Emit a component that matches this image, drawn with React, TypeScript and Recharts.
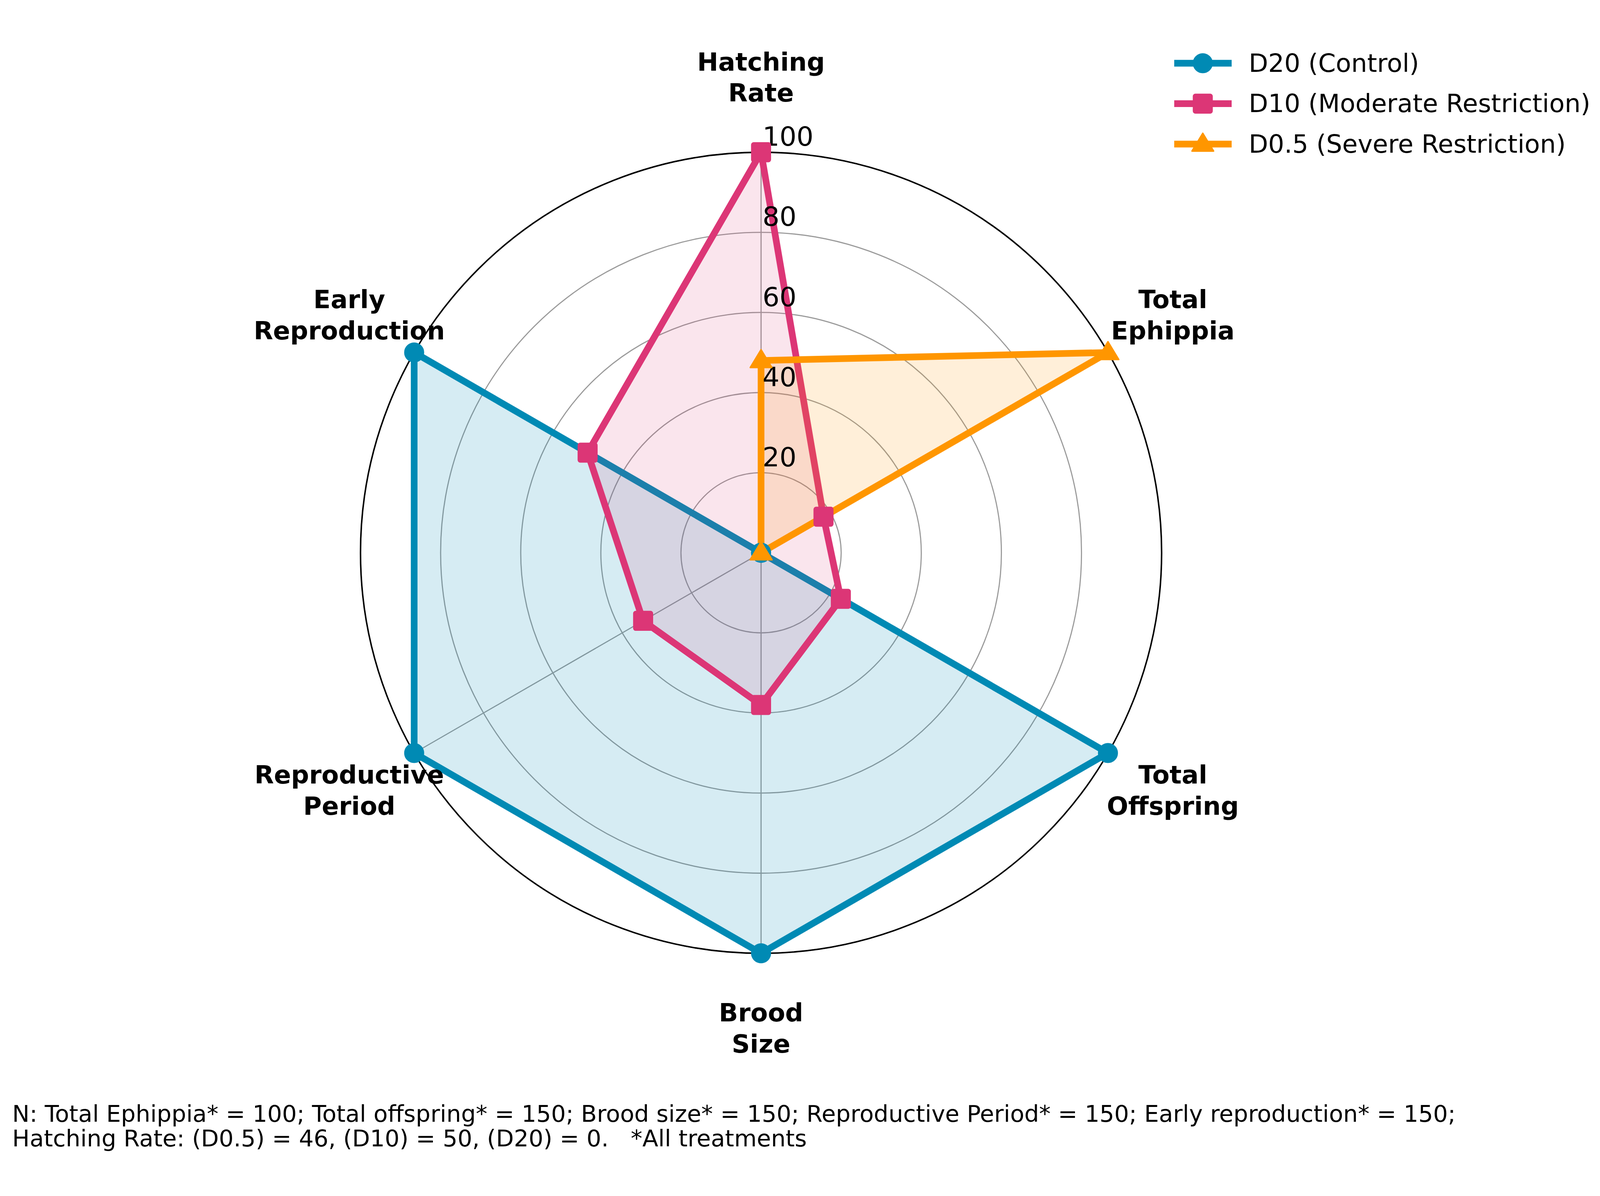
import React from 'react';
import {
  RadarChart,
  Radar,
  PolarGrid,
  PolarAngleAxis,
  PolarRadiusAxis,
  Legend,
} from 'recharts';

// --- data (normalised 0-100) ---
const categories = [
  'Hatching Rate',
  'Total Ephippia',
  'Total Offspring',
  'Brood Size',
  'Reproductive Period',
  'Early Reproduction',
];
const d20Control = [0, 0, 100, 100, 100, 100];
const d10Moderate = [100, 18, 23, 38, 34, 50];
const d05Severe = [48, 100, 0, 0, 0, 0];
const radiusTicks = [0, 20, 40, 60, 80, 100];

const seriesNames = ['D20 (Control)', 'D10 (Moderate Restriction)', 'D0.5 (Severe Restriction)'];
const seriesColors = ['#008AB4', '#DC3676', '#FF9600'];
const seriesMarkers = ['circle', 'square', 'triangle'];

const footnote = [
  'N: Total Ephippia* = 100; Total offspring* = 150; Brood size* = 150; Reproductive Period* = 150; Early reproduction* = 150;',
  'Hatching Rate: (D0.5) = 46, (D10) = 50, (D20) = 0.   *All treatments',
];

const data = categories.map((metric, i) => ({
  metric,
  d20: d20Control[i],
  d10: d10Moderate[i],
  d05: d05Severe[i],
}));

// design space = the reference figure size; scaled down to the real viewport
const W = 4314;
const H = 3062;
const CX = 2052;
const CY = 1409;
const OUTER_R = 1080;
const LABEL_R = 1282;
const LINE_W = 18;
const FONT = '"DejaVu Sans", sans-serif';

function Marker({ shape, x, y, color, size = 52 }: any) {
  const h = size / 2;
  if (shape === 'circle') {
    return <circle cx={x} cy={y} r={h} fill={color} stroke={color} strokeWidth={2} />;
  }
  if (shape === 'square') {
    return <rect x={x - h} y={y - h} width={size} height={size} rx={6} fill={color} stroke={color} strokeWidth={2} />;
  }
  const t = size * 0.56;
  return (
    <polygon
      points={`${x},${y - t} ${x - t},${y + t * 0.65} ${x + t},${y + t * 0.65}`}
      fill={color}
      stroke={color}
      strokeWidth={4}
      strokeLinejoin="round"
    />
  );
}

const makeDot = (idx: number) => (props: any) => {
  const { cx, cy, index } = props;
  return (
    <Marker
      key={`dot-${idx}-${index}`}
      shape={seriesMarkers[idx]}
      x={cx}
      y={cy}
      color={seriesColors[idx]}
    />
  );
};

// category labels, two lines, centred on a circle outside the plot
const AngleTick = ({ payload }: any) => {
  const a = (payload.coordinate * Math.PI) / 180;
  const x = CX + LABEL_R * Math.cos(a);
  const y = CY - LABEL_R * Math.sin(a);
  const words = String(payload.value).split(' ');
  const lh = 84;
  return (
    <text x={x} y={y} textAnchor="middle" fontFamily={FONT} fontSize={68} fontWeight="bold" fill="#000">
      {words.map((w, i) => (
        <tspan key={w} x={x} y={y + (i - (words.length - 1) / 2) * lh} dominantBaseline="central">
          {w}
        </tspan>
      ))}
    </text>
  );
};

const RadiusTick = ({ x, y, payload }: any) => {
  if (payload.value === 0) return null;
  return (
    <text x={x + 4} y={y - 42} textAnchor="start" dominantBaseline="central" fontFamily={FONT} fontSize={72} fill="#000">
      {payload.value}
    </text>
  );
};

const LegendContent = () => (
  <div style={{ fontFamily: FONT, fontSize: 68, color: '#000' }}>
    {seriesNames.map((name, i) => (
      <div key={name} style={{ display: 'flex', alignItems: 'center', height: 109 }}>
        <svg width={155} height={70} style={{ display: 'block' }}>
          <line x1={0} y1={35} x2={155} y2={35} stroke={seriesColors[i]} strokeWidth={LINE_W} />
          <Marker shape={seriesMarkers[i]} x={77} y={35} color={seriesColors[i]} />
        </svg>
        <span style={{ marginLeft: 46, whiteSpace: 'nowrap' }}>{name}</span>
      </div>
    ))}
  </div>
);

export default function App() {
  const vw = typeof window !== 'undefined' ? window.innerWidth : W;
  const s = Math.min(1, vw / W);
  const offY = (H - H * s) / 2;
  return (
    <div style={{ position: 'absolute', left: 0, top: 0, width: vw, height: H, overflow: 'hidden', background: '#fff' }}>
      <div
        style={{
          position: 'absolute',
          left: 0,
          top: 0,
          width: W,
          height: H,
          transformOrigin: '0 0',
          transform: `translate(0px, ${offY}px) scale(${s})`,
        }}
      >
        <RadarChart
          width={W}
          height={H}
          cx={CX}
          cy={CY}
          outerRadius={OUTER_R}
          data={data}
          margin={{ top: 0, right: 0, bottom: 0, left: 0 }}
        >
          <PolarGrid gridType="circle" stroke="#9a9a9a" strokeWidth={3} />
          <PolarGrid gridType="circle" polarRadius={[OUTER_R]} radialLines={false} stroke="#000" strokeWidth={4} />
          <PolarAngleAxis dataKey="metric" tick={<AngleTick />} axisLine={false} tickLine={false} />
          <PolarRadiusAxis
            angle={90}
            domain={[0, 100]}
            ticks={radiusTicks as any}
            tickCount={6}
            tick={<RadiusTick />}
            axisLine={false}
            tickLine={false}
          />
          <Radar name={seriesNames[0]} dataKey="d20" stroke={seriesColors[0]} strokeWidth={LINE_W} strokeLinejoin="round"
            fill={seriesColors[0]} fillOpacity={0.16} dot={makeDot(0)} isAnimationActive={false} />
          <Radar name={seriesNames[1]} dataKey="d10" stroke={seriesColors[1]} strokeWidth={LINE_W} strokeLinejoin="round"
            fill={seriesColors[1]} fillOpacity={0.13} dot={makeDot(1)} isAnimationActive={false} />
          <Radar name={seriesNames[2]} dataKey="d05" stroke={seriesColors[2]} strokeWidth={LINE_W} strokeLinejoin="round"
            fill={seriesColors[2]} fillOpacity={0.15} dot={makeDot(2)} isAnimationActive={false} />
          <Legend
            content={<LegendContent />}
            wrapperStyle={{ position: 'absolute', left: 3166, top: 34, width: 'auto', height: 'auto' }}
          />
        </RadarChart>
        <div style={{ position: 'absolute', left: 33, top: 2888, fontFamily: FONT, fontSize: 62.5, lineHeight: '67px', whiteSpace: 'pre', color: '#000' }}>
          {footnote.map((line) => (
            <div key={line}>{line}</div>
          ))}
        </div>
      </div>
    </div>
  );
}
